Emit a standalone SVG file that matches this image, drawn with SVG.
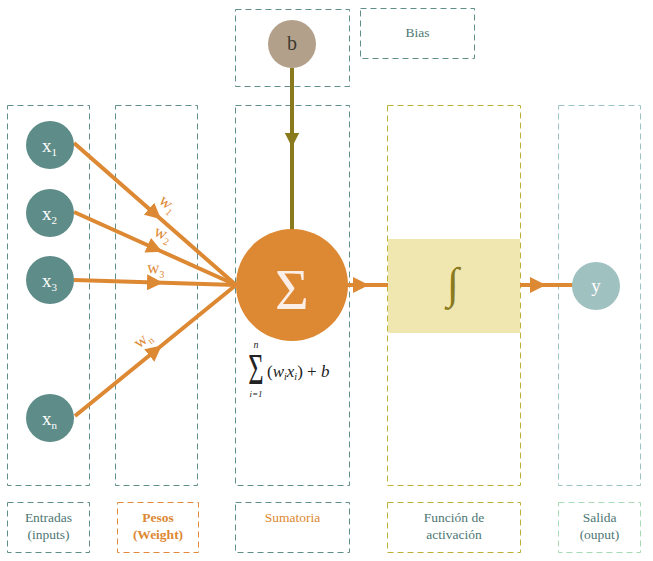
<svg xmlns="http://www.w3.org/2000/svg" width="653" height="561" viewBox="0 0 653 561">
<style>
.box{fill:none;stroke-width:1;stroke-dasharray:6 4}
.teal{stroke:#608f8a}
.orange{stroke:#e08a3a}
.olive{stroke:#bdb235}
.lteal{stroke:#9cc3c3}
.lgreen{stroke:#a6dbb5}
.lbl{font-family:"Liberation Serif",serif;font-size:13.5px;text-anchor:middle}
.tt{fill:#4d7773}
.to{fill:#dd8833}
.node{font-family:"Liberation Serif",serif;fill:#ffffff}
.conn{fill:none;stroke:#dd8833;stroke-width:4}
.w{font-family:"Liberation Serif",serif;font-size:17px;fill:#dd8833}
.math{font-family:"Liberation Serif",serif;fill:#222;font-style:italic}
</style>
<defs>
<marker id="ah" viewBox="0 0 10 10" refX="5" refY="5" markerWidth="4" markerHeight="4" markerUnits="strokeWidth" orient="auto">
<path d="M0,0 L10,5 L0,10 Z" fill="#dd8833"/>
</marker>
<marker id="ahb" viewBox="0 0 10 10" refX="5" refY="5" markerWidth="3.6" markerHeight="3.6" markerUnits="strokeWidth" orient="auto">
<path d="M0,0 L10,5 L0,10 Z" fill="#8a7a1e"/>
</marker>
</defs>

<g id="columns">
<rect class="box teal" x="7.5" y="105.5" width="82" height="380"/>
<rect class="box teal" x="115.5" y="105.5" width="82" height="380"/>
<rect class="box teal" x="235.5" y="105.5" width="114" height="380"/>
<rect class="box olive" x="387.5" y="105.5" width="133" height="380"/>
<rect class="box lteal" x="558.5" y="105.5" width="82" height="380"/>
<rect class="box teal" x="235.5" y="9.5" width="114" height="77"/>
</g>

<g id="bias-label">
<rect class="box teal" x="360.5" y="8.5" width="114" height="50"/>
<text class="lbl tt" x="417.5" y="37">Bias</text>
</g>

<g id="legend">
<g id="lg-entradas">
<rect class="box teal" x="7.5" y="502.5" width="82" height="50"/>
<text class="lbl tt" x="48.5" y="522">Entradas</text>
<text class="lbl tt" x="48.5" y="539">(inputs)</text>
</g>
<g id="lg-pesos">
<rect class="box orange" x="117.5" y="502.5" width="81" height="50"/>
<text class="lbl to" x="158" y="522" font-weight="bold">Pesos</text>
<text class="lbl to" x="158" y="539" font-weight="bold">(Weight)</text>
</g>
<g id="lg-sumatoria">
<rect class="box teal" x="235.5" y="502.5" width="114" height="50"/>
<text class="lbl to" x="292.5" y="522">Sumatoria</text>
</g>
<g id="lg-funcion">
<rect class="box olive" x="387.5" y="502.5" width="133" height="50"/>
<text class="lbl tt" x="454" y="522">Función de</text>
<text class="lbl tt" x="454" y="539">activación</text>
</g>
<g id="lg-salida">
<rect class="box lgreen" x="558.5" y="502.5" width="82" height="50"/>
<text class="lbl tt" x="599.5" y="522">Salida</text>
<text class="lbl tt" x="599.5" y="539">(ouput)</text>
</g>
</g>

<g id="connectors">
<path class="conn" d="M74,143 L155,214 L236,285" marker-mid="url(#ah)"/>
<path class="conn" d="M74,212 L155,248.5 L236,285" marker-mid="url(#ah)"/>
<path class="conn" d="M74,280 L155,282.5 L236,285" marker-mid="url(#ah)"/>
<path class="conn" d="M75,416 L155.5,350.5 L236,285" marker-mid="url(#ah)"/>
<path d="M292,68 L292,140 L292,230" fill="none" stroke="#8a7a1e" stroke-width="4" marker-mid="url(#ahb)"/>
<path class="conn" d="M347,285 L361,285 L388,285" marker-mid="url(#ah)"/>
<path class="conn" d="M520,285 L538,285 L573,285" marker-mid="url(#ah)"/>
<text class="w" transform="translate(158,202) rotate(41)">w<tspan font-size="10" dy="4">1</tspan></text>
<text class="w" transform="translate(153,235) rotate(24)">w<tspan font-size="10" dy="4">2</tspan></text>
<text class="w" transform="translate(147,273) rotate(2)">w<tspan font-size="10" dy="4">3</tspan></text>
<text class="w" transform="translate(139,349) rotate(-39)">w<tspan font-size="10" dy="4">n</tspan></text>
</g>

<g id="x1">
<circle cx="50" cy="145" r="24" fill="#5e8c88"/>
<text class="node" x="42" y="152" font-size="19">x<tspan font-size="11" dy="4">1</tspan></text>
</g>
<g id="x2">
<circle cx="50" cy="213" r="24" fill="#5e8c88"/>
<text class="node" x="42" y="220" font-size="19">x<tspan font-size="11" dy="4">2</tspan></text>
</g>
<g id="x3">
<circle cx="50" cy="280" r="24" fill="#5e8c88"/>
<text class="node" x="42" y="287" font-size="19">x<tspan font-size="11" dy="4">3</tspan></text>
</g>
<g id="xn">
<circle cx="50" cy="418" r="24" fill="#5e8c88"/>
<text class="node" x="42" y="425" font-size="19">x<tspan font-size="11" dy="4">n</tspan></text>
</g>

<g id="b">
<circle cx="292" cy="44" r="24" fill="#b3a08b"/>
<text x="292" y="50" font-family="Liberation Serif, serif" font-size="20" fill="#3d3930" text-anchor="middle">b</text>
</g>

<g id="sigma">
<circle cx="292" cy="285" r="56" fill="#dd8833"/>
<text x="292" y="309" font-family="Liberation Serif, serif" font-size="58" fill="#fbeee6" text-anchor="middle">Σ</text>
</g>

<g id="formula">
<text transform="translate(256,384) scale(0.6,1)" font-family="Liberation Serif, serif" font-size="44" fill="#222" text-anchor="middle">Σ</text>
<text class="math" x="256" y="348" font-size="10" text-anchor="middle">n</text>
<text class="math" x="256" y="397" font-size="9" text-anchor="middle">i=1</text>
<text class="math" x="267" y="377" font-size="17"><tspan font-style="normal">(</tspan>w<tspan font-size="10" dy="3">i</tspan><tspan dy="-3">x</tspan><tspan font-size="10" dy="3">i</tspan><tspan dy="-3" font-style="normal">) + </tspan>b</text>
</g>

<g id="activation">
<rect x="388" y="239" width="132" height="94" fill="#f0e6b0"/>
<text x="453" y="298" font-family="Liberation Serif, serif" font-size="44" fill="#8a7a1e" text-anchor="middle">∫</text>
</g>

<g id="y">
<circle cx="596" cy="286" r="24" fill="#9fc1c0"/>
<text class="node" x="596" y="292" font-size="19" text-anchor="middle">y</text>
</g>
</svg>
